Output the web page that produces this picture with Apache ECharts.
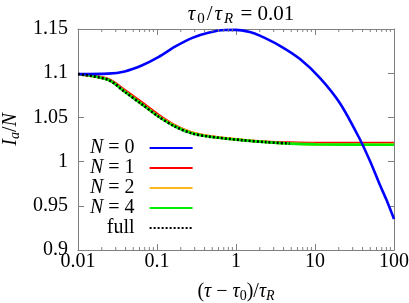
<!DOCTYPE html>
<html>
<head>
<meta charset="utf-8">
<script src="https://cdn.jsdelivr.net/npm/echarts@6/dist/echarts.min.js"></script>
<style>html,body{margin:0;padding:0;background:#fff}#c{width:409px;height:303px}</style>
</head>
<body>
<div id="c"></div>
<script>
// ---- data ----
const xTickLabels = ['0.01', '0.1', '1', '10', '100'];
const yTickLabels = ['0.9', '0.95', '1', '1.05', '1.1', '1.15'];

const n0X = [0.01, 0.024, 0.039, 0.064, 0.104, 0.169, 0.275, 0.445, 0.72, 1.0, 1.5, 2.0, 3.6, 6.46, 11.6, 20.7, 37.1, 50, 66, 80, 100];
const n0Y = [1.099, 1.0995, 1.102, 1.1087, 1.1182, 1.130, 1.1397, 1.1457, 1.1488, 1.149, 1.1465, 1.1425, 1.131, 1.116, 1.0945, 1.066, 1.025, 1.0, 0.974, 0.957, 0.935];

const decayX = [0.01, 0.024, 0.039, 0.064, 0.104, 0.169, 0.275, 0.445, 1.18, 2.4, 4.8, 10, 100];
const n1Y = [1.099, 1.0935, 1.081, 1.067, 1.053, 1.041, 1.033, 1.029, 1.0245, 1.0225, 1.0215, 1.021, 1.021];
const n2Y = [1.099, 1.0927, 1.0795, 1.0655, 1.0515, 1.0405, 1.033, 1.029, 1.0247, 1.0222, 1.0205, 1.0198, 1.0195];
const n4Y = [1.099, 1.0925, 1.079, 1.065, 1.051, 1.0397, 1.032, 1.0284, 1.0243, 1.022, 1.0203, 1.0195, 1.019];

const fullX = [0.01, 0.024, 0.039, 0.064, 0.104, 0.169, 0.275, 0.445, 1.18, 2.4, 4.8];
const fullY = [1.099, 1.0925, 1.079, 1.065, 1.051, 1.0397, 1.032, 1.0284, 1.0243, 1.022, 1.0205];

const seriesNames = ['N = 0', 'N = 1', 'N = 2', 'N = 4', 'full'];

// minor tick values of the log axis (2..9 in each decade)
const minorTicks = [];
for (let d = -2; d < 2; d++) for (let k = 2; k <= 9; k++) minorTicks.push([k * Math.pow(10, d), 0.9]);

const zip = (xs, ys) => xs.map((x, i) => [x, ys[i]]);

const FONT = '"Liberation Serif", "DejaVu Serif", serif';
const GRAY = '#808080';
const base = { fontFamily: FONT, fontWeight: 'normal', color: '#000' };
const mkRich = (s, ss, pad, gap) => ({
  n: Object.assign({}, base, { fontSize: s }),
  it: Object.assign({}, base, { fontSize: s, fontStyle: 'italic', padding: [0, gap, 0, gap] }),
  sub: Object.assign({}, base, { fontSize: ss, fontStyle: 'italic', padding: [pad, gap, 0, 0] }),
  subn: Object.assign({}, base, { fontSize: ss, padding: [pad, gap, 0, 0] })
});
const rich = mkRich(20, 14, 9, 0);
const titleRich = mkRich(21, 15, 10, 2);

const chart = echarts.init(document.getElementById('c'), null, { renderer: 'canvas' });

const lineSeries = (name, data, color, extra) => Object.assign({
  name, type: 'line', data, showSymbol: false, symbol: 'none', smooth: 0.3,
  lineStyle: { color, width: 2.6 }, itemStyle: { color }, z: 2
}, extra || {});

chart.setOption({
  animation: false,
  title: {
    text: '{it|τ}{subn|0}{n|/}{it|τ}{sub|R}{n| = 0.01}',
    left: 235, top: -3, textAlign: 'center',
    textStyle: { rich: titleRich, fontWeight: 'normal', fontSize: 21, fontFamily: FONT }
  },
  grid: { left: 78, right: 15, top: 29, bottom: 53, containLabel: false, outerBoundsMode: 'none' },
  legend: {
    data: seriesNames,
    orient: 'vertical', align: 'right',
    left: 85, top: 133,
    itemWidth: 43, itemHeight: 20, itemGap: 0,
    itemStyle: { opacity: 0 },
    formatter: (name) => name === 'full' ? '{n|full}' : '{it|N}{n|' + name.slice(1) + '}',
    textStyle: {
      rich: {
        n: Object.assign({}, rich.n, { lineHeight: 16, padding: [0, 10, 0, 0] }),
        it: Object.assign({}, rich.it, { lineHeight: 16 })
      }
    }
  },
  xAxis: [{
    type: 'log', min: 0.01, max: 100, logBase: 10,
    position: 'bottom',
    axisLine: { lineStyle: { color: GRAY, width: 1 } },
    axisTick: { inside: true, length: 6, lineStyle: { color: GRAY } },
    axisLabel: {
      margin: 2, color: '#000', fontFamily: FONT, fontSize: 20,
      formatter: (v) => { const i = Math.round(Math.log10(v)) + 2; return xTickLabels[i] !== undefined ? xTickLabels[i] : ''; }
    },
    splitLine: { show: false },
    name: '{n|(}{it|τ}{n| − }{it|τ}{subn|0}{n|)/}{it|τ}{sub|R}',
    nameLocation: 'middle', nameGap: 30,
    nameTextStyle: { rich }
  }, {
    type: 'log', min: 0.01, max: 100, logBase: 10, position: 'top',
    axisLine: { lineStyle: { color: GRAY, width: 1 } },
    axisTick: { inside: true, length: 6, lineStyle: { color: GRAY } },
    axisLabel: { show: false }, splitLine: { show: false }
  }],
  yAxis: [{
    type: 'value', min: 0.9, max: 1.15, interval: 0.05,
    axisLine: { show: true, lineStyle: { color: GRAY, width: 1 } },
    axisTick: { show: true, inside: true, length: 6, lineStyle: { color: GRAY } },
    axisLabel: {
      margin: 10, color: '#000', fontFamily: FONT, fontSize: 20,
      formatter: (v) => { const i = Math.round((v - 0.9) / 0.05); return yTickLabels[i] !== undefined ? yTickLabels[i] : ''; }
    },
    splitLine: { show: false },
    name: '{it|I}{sub|a}{n|/}{it|N}',
    nameLocation: 'middle', nameGap: 52, nameRotate: 90,
    nameTextStyle: { rich, padding: [0, 0, 0, 20] }
  }, {
    type: 'value', min: 0.9, max: 1.15, interval: 0.05, position: 'right',
    axisLine: { show: true, lineStyle: { color: GRAY, width: 1 } },
    axisTick: { show: true, inside: true, length: 6, lineStyle: { color: GRAY } },
    axisLabel: { show: false }, splitLine: { show: false }
  }],
  series: [
    lineSeries(seriesNames[1], zip(decayX, n1Y), '#ff0000'),
    lineSeries(seriesNames[2], zip(decayX, n2Y), '#ffb81c'),
    lineSeries(seriesNames[3], zip(decayX, n4Y), '#00ee00'),
    lineSeries(seriesNames[0], zip(n0X, n0Y), '#0000ff', { z: 3 }),
    lineSeries(seriesNames[4], zip(fullX, fullY), '#000000', { z: 4, lineStyle: { color: '#000', width: 2.6, type: [2, 2] } }),
    {
      type: 'custom', silent: true, data: minorTicks, z: 5,
      encode: { x: 0, y: 1 },
      renderItem: (params, api) => {
        const cs = params.coordSys;
        const p = api.coord([api.value(0), 0.9]);
        const st = { stroke: GRAY, lineWidth: 1 };
        return {
          type: 'group', children: [
            { type: 'line', shape: { x1: p[0], y1: cs.y + cs.height, x2: p[0], y2: cs.y + cs.height - 3 }, style: st },
            { type: 'line', shape: { x1: p[0], y1: cs.y, x2: p[0], y2: cs.y + 3 }, style: st }
          ]
        };
      }
    }
  ]
});
</script>
</body>
</html>
